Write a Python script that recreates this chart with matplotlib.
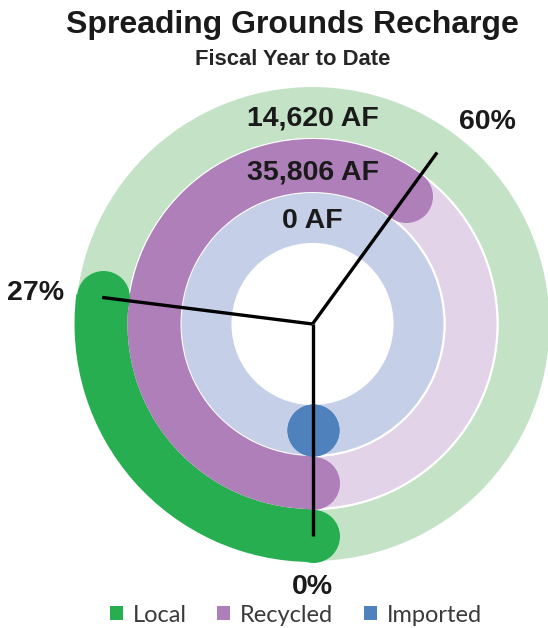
import numpy as np
import matplotlib
matplotlib.use("Agg")
import matplotlib.pyplot as plt
from matplotlib.patches import Patch

# ---- data ----
categories = ["Local", "Recycled", "Imported"]
volumes_af = [14620, 35806, 0]
percents = [27, 60, 0]
title = "Spreading Grounds Recharge"
subtitle = "Fiscal Year to Date"

# ---- style ----
bar_colors = ["#27ae50", "#af7fb9", "#4f81bd"]
track_colors = ["#c4e3c6", "#e2d3e9", "#c5cfe7"]
ring_inner = [185, 132, 80]     # radial positions (pixel-like units)
ring_width = [53, 53, 52]
ring_label_shift = [-3, -4.5, 0]
line_len = 212
label_r = 250
text_color = "#1a1a1a"

W, H, DPI = 548, 628, 100
fig = plt.figure(figsize=(W / DPI, H / DPI), dpi=DPI)

cx, cy, R = 312.5, 324.0, 240.0
ax = fig.add_axes([(cx - R) / W, 1 - (cy + R) / H, 2 * R / W, 2 * R / H],
                  projection="polar")
ax.set_theta_zero_location("S")
ax.set_theta_direction(-1)
ax.set_ylim(0, R)
ax.set_axis_off()

px2pt = 72.0 / DPI
for i, cat in enumerate(categories):
    rin, w = ring_inner[i], ring_width[i]
    mid = rin + w / 2
    # background track
    ax.bar(0, w, width=2 * np.pi, bottom=rin, align="edge",
           color=track_colors[i], edgecolor="white", linewidth=1.5, zorder=1)
    # value bar
    ext = percents[i] / 100 * 2 * np.pi
    if ext > 0:
        ax.bar(0, w, width=ext, bottom=rin, align="edge",
               color=bar_colors[i], linewidth=0, zorder=2)
    # rounded caps
    s = (w * px2pt) ** 2
    ax.scatter([0, ext], [mid, mid], s=s, color=bar_colors[i],
               linewidths=0, zorder=3)
    # volume label
    ax.text(np.pi, mid + ring_label_shift[i], f"{volumes_af[i]:,} AF",
            ha="center", va="center_baseline",
            fontsize=20.5, fontweight="bold", family="Liberation Sans",
            color=text_color, zorder=5)

# indicator lines and percent labels
for i, p in enumerate(percents):
    th = p / 100 * 2 * np.pi
    ax.plot([th, th], [0, line_len], color="black", lw=2.4,
            solid_capstyle="butt", zorder=6)
    phi = th + np.pi           # angle from top, clockwise
    sx, cy_ = np.sin(phi), np.cos(phi)
    ha = "left" if sx > 0.3 else ("right" if sx < -0.3 else "center")
    va = "bottom" if cy_ > 0.9 else ("top" if cy_ < -0.9 else "center")
    ax.text(th, label_r, f"{p}%", ha=ha, va=va, fontsize=20.5,
            fontweight="bold", family="Liberation Sans", color=text_color,
            zorder=7, clip_on=False)

# titles
fig.text(292 / W, 1 - 33.5 / H, title, ha="center", va="baseline",
         fontsize=23, fontweight="bold", family="Liberation Sans",
         color=text_color)
fig.text(292.5 / W, 1 - 65 / H, subtitle, ha="center", va="baseline",
         fontsize=15.8, fontweight="bold", family="Liberation Sans",
         color="#262626")

# legend
handles = [Patch(facecolor=c, edgecolor="none") for c in bar_colors]
leg = fig.legend(handles, categories, loc="center", ncol=3,
                 bbox_to_anchor=(296 / W, 1 - 615 / H), frameon=False,
                 prop={"family": "Lato", "size": 17},
                 handlelength=0.55, handleheight=0.55, handletextpad=0.42,
                 columnspacing=1.3, borderpad=0, borderaxespad=0)
for t in leg.get_texts():
    t.set_color("#3a3a3a")

fig.savefig("out.png", dpi=DPI)
